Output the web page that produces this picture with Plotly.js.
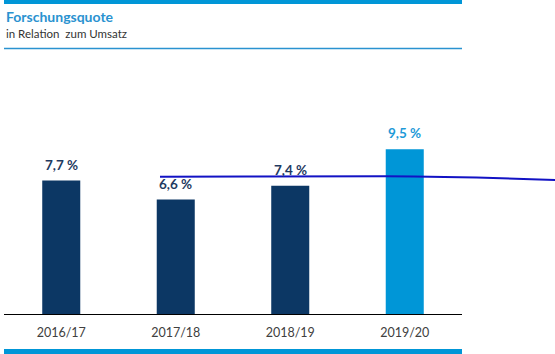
<!DOCTYPE html>
<html>
<head>
<meta charset="utf-8">
<script src="https://cdn.plot.ly/plotly-3.0.1.min.js"></script>
<style>html,body{margin:0;padding:0;background:#fff;}#chart{width:555px;height:354px;}</style>
</head>
<body>
<div id="chart"></div>
<script>
const categories = ["2016/17", "2017/18", "2018/19", "2019/20"];
const values = [7.7, 6.6, 7.4, 9.5];
const labels = ["7,7 %", "6,6 %", "7,4 %", "9,5 %"];
const barColors = ["#0c3764", "#0c3764", "#0c3764", "#0096d7"];
const labelColors = ["#1f3a62", "#1f3a62", "#1f3a62", "#1e9ad8"];

const trace = {
  type: "bar",
  x: categories,
  y: values,
  marker: {color: barColors},
  hoverinfo: "skip"
};

const valueAnnotations = categories.map((c, i) => ({
  x: c, y: values[i], xref: "x", yref: "y",
  text: "<b>" + labels[i] + "</b>",
  showarrow: false, yanchor: "bottom", yshift: 6,
  font: {family: "Lato, 'Open Sans', sans-serif", size: 13.5, color: labelColors[i]}
}));

const layout = {
  width: 555, height: 354,
  margin: {l: 4, r: 93, t: 54, b: 40},
  paper_bgcolor: "#fff", plot_bgcolor: "#fff",
  showlegend: false,
  bargap: 0.668,
  xaxis: {
    type: "category", range: [-0.5, 3.5], fixedrange: true,
    showline: true, linecolor: "#000", linewidth: 1,
    ticks: "", showgrid: false, zeroline: false,
    ticklabelstandoff: 7,
    tickfont: {family: "Lato, 'Open Sans', sans-serif", size: 12.5, color: "#404040"}
  },
  yaxis: {
    range: [0, 15], visible: false, showgrid: false, zeroline: false, fixedrange: true
  },
  annotations: [
    {xref: "paper", yref: "paper", x: 0, y: 1.146, xanchor: "left", yanchor: "middle",
     text: "<b>Forschungsquote</b>", showarrow: false,
     font: {family: "Lato, 'Open Sans', sans-serif", size: 14, color: "#2a92d0"}},
    {xref: "paper", yref: "paper", x: 0, y: 1.077, xanchor: "left", yanchor: "middle",
     text: "in Relation  zum Umsatz", showarrow: false,
     font: {family: "Lato, 'Open Sans', sans-serif", size: 11.5, color: "#333333"}}
  ].concat(valueAnnotations),
  shapes: [
    {type: "rect", xref: "paper", yref: "paper", x0: 0, x1: 1, y0: 1.1923, y1: 1.2077,
     fillcolor: "#0096d7", line: {width: 0}},
    {type: "line", xref: "paper", yref: "paper", x0: 0, x1: 1, y0: 1.0212, y1: 1.0212,
     line: {color: "#2a92d0", width: 1.5}},
    {type: "rect", xref: "paper", yref: "paper", x0: 0, x1: 1, y0: -0.17, y1: -0.1346,
     fillcolor: "#0096d7", line: {width: 0}},
    {type: "path", xref: "paper", yref: "paper",
     path: "M 0.3406 0.5281 C 0.50 0.5275, 0.70 0.5300, 0.8319 0.5296 C 0.93 0.529, 1.02 0.527, 1.2031 0.5154",
     line: {color: "#1212c4", width: 2}}
  ]
};

Plotly.newPlot("chart", [trace], layout, {displayModeBar: false, staticPlot: true});
</script>
</body>
</html>
